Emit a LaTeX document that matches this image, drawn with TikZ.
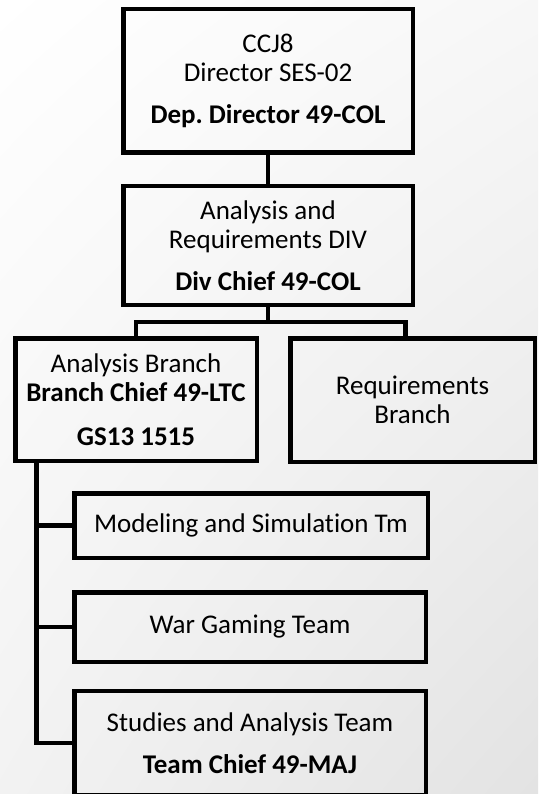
\documentclass[tikz,border=0pt]{standalone}
\usepackage{fontspec}
\setmainfont{Carlito}[Ligatures=NoCommon]
\usetikzlibrary{shadings}
\frenchspacing
\begin{document}
\begin{tikzpicture}[x=1pt,y=-1pt,
    box/.style={draw,line width=4.5pt,rectangle,inner sep=0pt,align=center,
      font=\fontsize{27}{29}\selectfont},
    link/.style={line width=4.5pt}]
  \useasboundingbox (0,0) rectangle (538,794);
  \clip (0,0) rectangle (538,794);
  \shade[upper left=white,upper right=white!97!black,
    lower left=white!95!black,lower right=white!89!black] (0,0) rectangle (538,794);
  \draw
    (268,81) node[box,minimum width=289.5,minimum height=143.5] (ccj){CCJ8\\Director SES-02\\[13pt]\textbf{Dep. Director 49-COL}}
    (268,245.5) node[box,minimum width=289.5,minimum height=118.5] (div){Analysis and\\Requirements DIV\\[13pt]\textbf{Div Chief 49-COL}}
    (136,399.5) node[box,minimum width=241.5,minimum height=122.5] (ana){Analysis Branch\\\textbf{Branch Chief 49-LTC}\\[15pt]\textbf{GS13 1515}}
    (412.5,400) node[box,minimum width=244.5,minimum height=123.5] (req){Requirements\\Branch}
    (251,525.5) node[box,minimum width=353.5,minimum height=64.5] (mod){Modeling and Simulation Tm}
    (250,627) node[box,minimum width=351.5,minimum height=69.5] (war){War Gaming Team}
    (250,743) node[box,minimum width=351.5,minimum height=104] (stu){Studies and Analysis Team\\[13pt]\textbf{Team Chief 49-MAJ}};
  \coordinate (trunk) at ([xshift=23.5]ana.south west);
  \begin{scope}[link]
    \draw (ccj) to (div);
    \draw (div.south) -- ++(0,15) -| (ana.north);
    \draw (div.south) -- ++(0,15) -| ([xshift=-7]req.north);
    \draw (trunk) |- (mod.west);
    \draw (trunk) |- (war.west);
    \draw (trunk) |- (stu.west);
  \end{scope}
\end{tikzpicture}
\end{document}
